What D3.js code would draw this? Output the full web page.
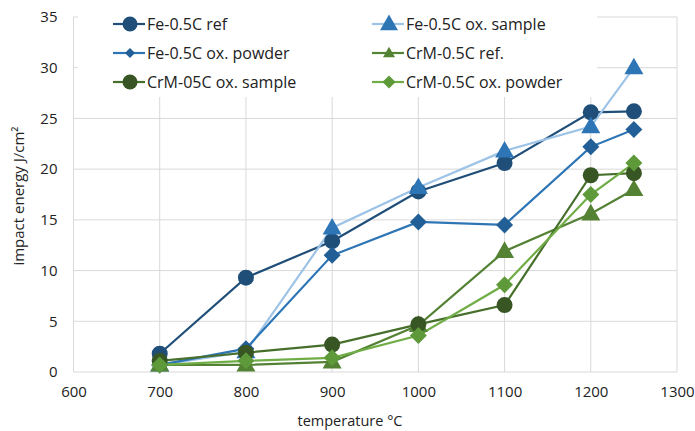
<!DOCTYPE html>
<html>
<head>
<meta charset="utf-8">
<script src="https://cdn.jsdelivr.net/npm/d3@7"></script>
<style>
  body { margin: 0; background: #fff; }
  svg { display: block; font-family: "Open Sans", sans-serif; }
</style>
</head>
<body>
<svg class="canvas" width="695" height="431"></svg>
<script>
// data
const temps = [700, 800, 900, 1000, 1100, 1200, 1250];
const feRef = [1.8, 9.3, 12.9, 17.8, 20.6, 25.6, 25.7];
const feOxSample = [0.7, 2.0, 14.2, 18.2, 21.8, 24.2, 30.0];
const feOxPowder = [0.7, 2.3, 11.5, 14.8, 14.5, 22.2, 23.9];
const crmRef = [0.7, 0.7, 1.0, 4.6, 11.9, 15.6, 18.0];
const crmOxSample = [1.1, 1.9, 2.7, 4.7, 6.6, 19.4, 19.6];
const crmOxPowder = [0.7, 1.1, 1.4, 3.6, 8.6, 17.5, 20.6];
const seriesNames = ["Fe-0.5C ref", "Fe-0.5C ox. sample", "Fe-0.5C ox. powder",
  "CrM-0.5C ref.", "CrM-05C ox. sample", "CrM-0.5C ox. powder"];
const xTicks = [600, 700, 800, 900, 1000, 1100, 1200, 1300];
const yTicks = [0, 5, 10, 15, 20, 25, 30, 35];

const series = [
  { name: seriesNames[0], values: feRef, line: "#1f4e79", fill: "#1f4e79", shape: "circle", size: 8, legSize: 7.5 },
  { name: seriesNames[1], values: feOxSample, line: "#9dc3e6", fill: "#2e75b6", shape: "triangle", size: 9.5, legSize: 9 },
  { name: seriesNames[2], values: feOxPowder, line: "#2e75b6", fill: "#235f97", shape: "diamond", size: 8.5, legSize: 5 },
  { name: seriesNames[3], values: crmRef, line: "#548235", fill: "#548235", shape: "triangle", size: 9.5, legSize: 6 },
  { name: seriesNames[4], values: crmOxSample, line: "#476f2c", fill: "#375623", shape: "circle", size: 8, legSize: 7.5 },
  { name: seriesNames[5], values: crmOxPowder, line: "#70ad47", fill: "#5e9a3a", shape: "diamond", size: 8.5, legSize: 6.5 }
];

const svg = d3.select(".canvas");
const plotLeft = 73.5, plotRight = 677, plotTop = 17, plotBottom = 372;

const xScale = d3.scaleLinear().domain([600, 1300]).range([plotLeft, plotRight]);
const yScale = d3.scaleLinear().domain([0, 35]).range([plotBottom, plotTop]);

// marker path, r = half width
function marker(shape, r) {
  if (shape === "circle") {
    return d3.symbol(d3.symbolCircle, Math.PI * r * r)();
  }
  if (shape === "diamond") {
    return `M0,${-r}L${r},0L0,${r}L${-r},0Z`;
  }
  const h = r * 1.75;
  return `M0,${-h * 0.6}L${r},${h * 0.4}L${-r},${h * 0.4}Z`;
}

// gridlines
svg.append("g")
  .selectAll("line")
  .data(yTicks)
  .join("line")
  .attr("x1", plotLeft).attr("x2", plotRight)
  .attr("y1", (d) => yScale(d)).attr("y2", (d) => yScale(d))
  .attr("stroke", "#d9d9d9").attr("stroke-width", 1);
svg.append("g")
  .selectAll("line")
  .data(xTicks)
  .join("line")
  .attr("x1", (d) => xScale(d)).attr("x2", (d) => xScale(d))
  .attr("y1", plotTop).attr("y2", plotBottom)
  .attr("stroke", "#d9d9d9").attr("stroke-width", 1);

// axes (labels only, lines are the grid)
const xAxis = d3.axisBottom(xScale).tickValues(xTicks).tickFormat(d3.format("d"))
  .tickSize(0).tickPadding(14);
const yAxis = d3.axisLeft(yScale).tickValues(yTicks).tickFormat(d3.format("d"))
  .tickSize(0).tickPadding(16);
svg.append("g")
  .attr("transform", `translate(0, ${plotBottom})`)
  .call(xAxis)
  .call((g) => g.select(".domain").remove())
  .selectAll("text")
  .attr("font-size", "15px").attr("fill", "#222").attr("font-family", "Open Sans");
svg.append("g")
  .attr("transform", `translate(${plotLeft}, 0)`)
  .call(yAxis)
  .call((g) => g.select(".domain").remove())
  .selectAll("text")
  .attr("font-size", "15px").attr("fill", "#222").attr("font-family", "Open Sans");

// axis titles
svg.append("text")
  .attr("x", 350).attr("y", 426)
  .attr("text-anchor", "middle")
  .attr("font-size", "14.5px").attr("fill", "#222")
  .text("temperature °C");
svg.append("text")
  .attr("transform", "translate(24, 196) rotate(-90)")
  .attr("text-anchor", "middle")
  .attr("font-size", "15px").attr("fill", "#222")
  .text("impact energy J/cm²");

// legend background covering the grid
svg.append("rect")
  .attr("x", 78).attr("y", plotTop - 1).attr("width", 519).attr("height", 81)
  .attr("fill", "#fff");

// series
const line = d3.line().x((d) => xScale(d[0])).y((d) => yScale(d[1]));
series.forEach((s) => {
  const pts = temps.map((t, i) => [t, s.values[i]]);
  svg.append("path")
    .datum(pts)
    .attr("d", line)
    .attr("fill", "none")
    .attr("stroke", s.line)
    .attr("stroke-width", 2.2);
});
series.forEach((s) => {
  const pts = temps.map((t, i) => [t, s.values[i]]);
  svg.append("g")
    .selectAll("path")
    .data(pts)
    .join("path")
    .attr("transform", (d) => `translate(${xScale(d[0])}, ${yScale(d[1])})`)
    .attr("d", marker(s.shape, s.size))
    .attr("fill", s.fill);
});

// legend
const legendCols = [113, 372];
const legendRows = [24, 53, 82];
series.forEach((s, i) => {
  const col = i % 2, row = Math.floor(i / 2);
  const g = svg.append("g")
    .attr("transform", `translate(${legendCols[col]}, ${legendRows[row]})`);
  g.append("line")
    .attr("x1", 0).attr("x2", 32).attr("y1", 0).attr("y2", 0)
    .attr("stroke", s.line).attr("stroke-width", 2.2);
  g.append("path")
    .attr("transform", "translate(17, 0)")
    .attr("d", marker(s.shape, s.legSize))
    .attr("fill", s.fill);
  g.append("text")
    .attr("x", 34).attr("y", 0).attr("dy", "0.35em")
    .attr("font-size", "16px").attr("fill", "#222")
    .text(s.name);
});
</script>
</body>
</html>
